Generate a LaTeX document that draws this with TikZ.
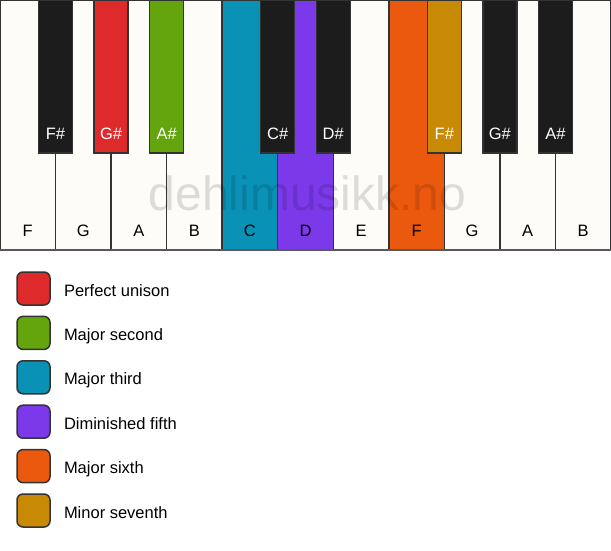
\documentclass[tikz,border=0pt]{standalone}
\usepackage{fontspec}
\setmainfont{Liberation Sans}
\definecolor{keywhite}{HTML}{FDFCF9}
\definecolor{keyblack}{HTML}{1C1C1C}
\definecolor{keyline}{HTML}{333333}
\definecolor{unison}{HTML}{DE2A2A}
\definecolor{second}{HTML}{64A50E}
\definecolor{third}{HTML}{0991B6}
\definecolor{fifth}{HTML}{7C39EA}
\definecolor{sixth}{HTML}{EB590E}
\definecolor{seventh}{HTML}{C88905}
\begin{document}
\begin{tikzpicture}
	[x=1pt, y=-1pt,
	 every node/.style={inner sep=0, outer sep=0, font=\fontsize{16.5}{18}\selectfont},
	 whitekey/.style={rectangle, draw=keyline, line width=1.5pt, anchor=north west,
	   minimum width=55.545pt, minimum height=250pt},
	 blackkey/.style={rectangle, draw=keyline, line width=1.5pt, anchor=north,
	   minimum width=34pt, minimum height=153pt},
	 swatch/.style={rectangle, draw=keyline, line width=1.5pt, rounded corners=6pt,
	   minimum size=33pt},
	 keyname/.style={anchor=base}]
	\useasboundingbox (0, 0) rectangle (611, 550);
	% white keys
	\foreach \name/\col [count=\i from 0] in {F/keywhite, G/keywhite, A/keywhite,
	    B/keywhite, C/third, D/fifth, E/keywhite, F/sixth, G/keywhite, A/keywhite, B/keywhite} {
		\node (w\i) [whitekey, fill=\col] at (\i*55.545, 0) {};
		\node (wl\i) [keyname] at (\i*55.545+27.77, 236) {\name};
	}
	\draw [draw=black!65, line width=2.5pt] (w0.south west) -- (w10.south east);
	% black keys
	\foreach \pos/\name/\col [count=\i] in {1/F\#/keyblack, 2/G\#/unison, 3/A\#/second,
	    5/C\#/keyblack, 6/D\#/keyblack, 8/F\#/seventh, 9/G\#/keyblack, 10/A\#/keyblack} {
		\node (b\i) [blackkey, fill=\col] at (\pos*55.545, 0) {};
		\node (bl\i) [keyname, text=white] at (\pos*55.545, 139) {\name};
	}
	% watermark
	\node (mark) [anchor=base, text=black, text opacity=0.13,
	  font=\fontsize{48}{50}\selectfont] at (307.5, 210) {dehlimusikk.no};
	% legend
	\foreach \col/\name [count=\i from 0] in {unison/Perfect unison, second/Major second,
	    third/Major third, fifth/Diminished fifth, sixth/Major sixth, seventh/Minor seventh} {
		\node (s\i) [swatch, fill=\col] at (33.5, 288.5+\i*44.4) {};
		\node (t\i) [anchor=base west] at (64, 296+\i*44.4) {\name};
	}
\end{tikzpicture}
\end{document}
